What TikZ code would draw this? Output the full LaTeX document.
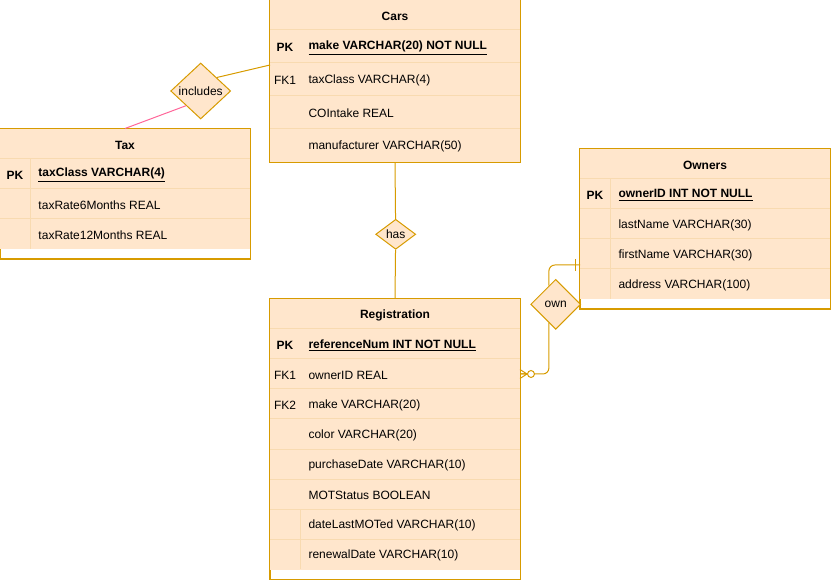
\documentclass[tikz,border=0pt]{standalone}
\usepackage{fontspec}
\setmainfont{Liberation Sans}
\usetikzlibrary{shapes.geometric}

\definecolor{erfill}{HTML}{FFE6CC}
\definecolor{erline}{HTML}{D79B00}
\definecolor{errow}{HTML}{F8DAB0}
\definecolor{erpink}{HTML}{FF6699}

\tikzset{
  tablebox/.style={draw=erline, fill=white, minimum width=187.5pt, inner sep=0pt},
  rowline/.style={draw=errow},
  title/.style={font=\fontsize{9}{11}\selectfont\bfseries, yshift=-0.9pt},
  keycol/.style={inner sep=0pt, yshift=-0.9pt},
  field/.style={anchor=west, inner sep=0pt, yshift=-0.9pt},
  relation/.style={diamond, draw=erline, fill=erfill, inner sep=0pt},
  link/.style={draw=erline},
}

\begin{document}
\begin{tikzpicture}[x=0.75pt, y=-0.75pt, line width=0.75pt, font=\fontsize{9}{11}\selectfont]
    \useasboundingbox (0,0) rectangle (831,580);

    % Cars table
    \node[tablebox, minimum height=121.5pt] (cars) at (395,81) {};
    \fill[erfill] (cars.north west) rectangle (cars.south east);
    \foreach \y in {30,63,96,129} \draw[rowline] (270,\y) -- (520,\y);
    \draw[erline] (cars.north west) rectangle (cars.south east);
    \node[title] (cars-title) at (395,15) {Cars};
    \node[keycol] (cars-pk) at (285,46.5) {\bfseries PK};
    \node[field] (cars-make) at (308,46.5) {\bfseries\underline{make VARCHAR(20) NOT NULL}};
    \foreach \key/\txt [count=\i] in {FK1/taxClass VARCHAR(4), /COIntake REAL, /manufacturer VARCHAR(50)} {
        \node[keycol] (cars-key\i) at (285,{46.5+33*\i}) {\key};
        \node[field] (cars-field\i) at (308,{46.5+33*\i}) {\txt};
    }

    % Tax table
    \node[tablebox, minimum height=97.5pt] (tax) at (125,194) {};
    \fill[erfill] (tax.north west) rectangle ([yshift=7.5pt]tax.south east);
    \foreach \y in {159,189,219} \draw[rowline] (0,\y) -- (250,\y);
    \draw[rowline] (30,159) -- (30,249);
    \draw[erline] (tax.north west) rectangle (tax.south east);
    \node[title] (tax-title) at (125,144) {Tax};
    \node[keycol] (tax-pk) at (15,174) {\bfseries PK};
    \node[field] (tax-class) at (38,174) {\bfseries\underline{taxClass VARCHAR(4)}};
    \foreach \txt [count=\i] in {taxRate6Months REAL, taxRate12Months REAL}
        \node[field] (tax-field\i) at (38,{174+30*\i}) {\txt};

    % Owners table
    \node[tablebox, minimum height=120pt] (owners) at (705,229) {};
    \fill[erfill] (owners.north west) rectangle ([yshift=7.5pt]owners.south east);
    \foreach \y in {179,209,239,269} \draw[rowline] (580,\y) -- (830,\y);
    \draw[rowline] (610,179) -- (610,299);
    \draw[erline] (owners.north west) rectangle (owners.south east);
    \node[title] (owners-title) at (705,164) {Owners};
    \node[keycol] (owners-pk) at (595,194) {\bfseries PK};
    \node[field] (owners-id) at (618,194) {\bfseries\underline{ownerID INT NOT NULL}};
    \foreach \txt [count=\i] in {lastName VARCHAR(30), firstName VARCHAR(30), address VARCHAR(100)}
        \node[field] (owners-field\i) at (618,{194+30*\i}) {\txt};

    % Registration table
    \node[tablebox, minimum height=210pt] (reg) at (395,439) {};
    \fill[erfill] (reg.north west) rectangle ([yshift=7.5pt]reg.south east);
    \foreach \y in {329,359,...,539} \draw[rowline] (270,\y) -- (520,\y);
    \draw[rowline] (300,509) -- (300,569);
    \draw[erline] (reg.north west) rectangle (reg.south east);
    \node[title] (reg-title) at (395,314) {Registration};
    \node[keycol] (reg-pk) at (285,344) {\bfseries PK};
    \node[field] (reg-num) at (308,344) {\bfseries\underline{referenceNum INT NOT NULL}};
    \foreach \key/\txt [count=\i] in {FK1/ownerID REAL, FK2/make VARCHAR(20), /color VARCHAR(20), /purchaseDate VARCHAR(10), /MOTStatus BOOLEAN, /dateLastMOTed VARCHAR(10), /renewalDate VARCHAR(10)} {
        \node[keycol] (reg-key\i) at (285,{344+30*\i}) {\key};
        \node[field] (reg-field\i) at (308,{344+30*\i}) {\txt};
    }

    % Relations
    \node[relation, aspect=1.1, minimum width=45pt, minimum height=42pt] (incl) at (200.7,91) {includes};
    \node[relation, aspect=1.33, minimum width=30pt, minimum height=22.5pt] (has) at (395.7,234.3) {has};
    \node[relation, aspect=1, minimum width=37.5pt, minimum height=37.5pt] (own) at (555.7,304.3) {own};

    % Connectors
    \coordinate (carsin) at (270,65);
    \coordinate (ownin) at (580,265);
    \coordinate (regin) at (520,374);
    \draw[link] (incl.40) -- (carsin);
    \draw[erpink] (incl.225) -- (tax.north);
    \draw[link] (cars.south) -- (has) -- (reg.north);
    \draw[link, rounded corners=4.5pt] (own.110) |- (ownin);
    \draw[link, rounded corners=4.5pt] (own.250) |- (regin);

    % Cardinality marks
    \draw[link, shift={(ownin)}] (-4.5,-6) -- (-4.5,6);
    \draw[link, shift={(regin)}] (0,-4.5) -- (7,0) -- (0,4.5) (0,0) -- (7,0);
    \draw[link, fill=white] ([xshift=8.25pt]regin) circle (2.6pt);
\end{tikzpicture}
\end{document}
